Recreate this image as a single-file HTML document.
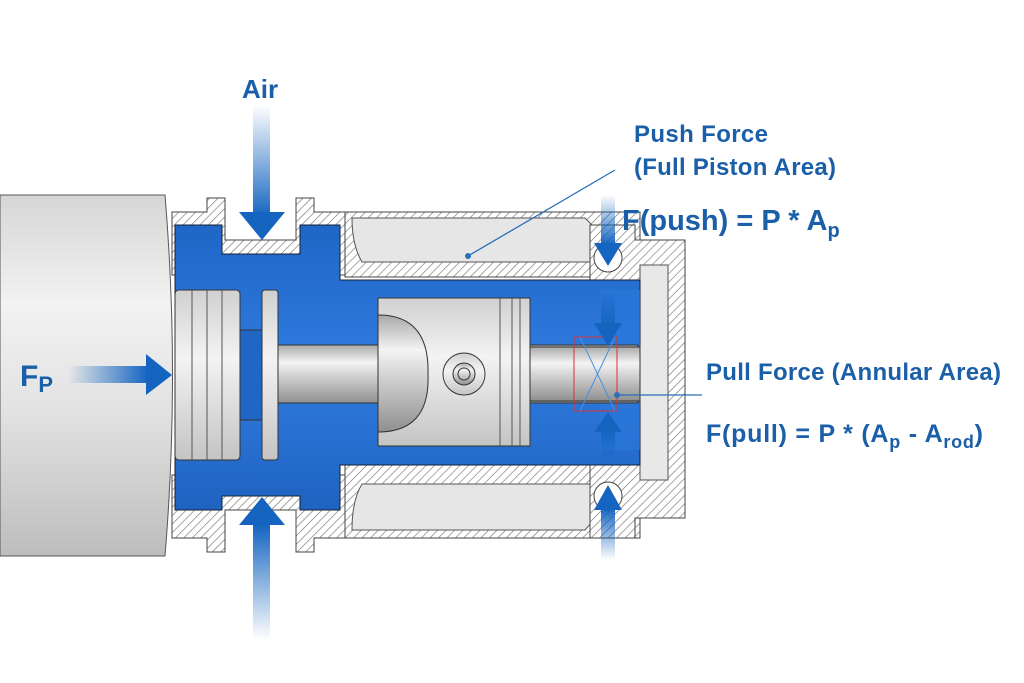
<!DOCTYPE html>
<html><head><meta charset="utf-8"><style>
html,body{margin:0;padding:0;background:#fff;}
svg{display:block;}
text{font-family:"Liberation Sans",sans-serif;font-weight:bold;fill:#1b5fa8;}
</style></head><body>
<svg width="1024" height="683" viewBox="0 0 1024 683" xmlns="http://www.w3.org/2000/svg">
<defs>
<pattern id="h" width="6" height="6" patternUnits="userSpaceOnUse" patternTransform="rotate(45)">
<rect width="6" height="6" fill="#fff"/><line x1="0" y1="0" x2="0" y2="6" stroke="#777" stroke-width="1.3"/></pattern>
<linearGradient id="cyl" x1="0" y1="0" x2="0" y2="1">
<stop offset="0" stop-color="#d6d6d6"/><stop offset="0.3" stop-color="#f2f2f2"/><stop offset="0.6" stop-color="#e2e2e2"/><stop offset="1" stop-color="#bdbdbd"/></linearGradient>
<linearGradient id="rod" x1="0" y1="0" x2="0" y2="1">
<stop offset="0" stop-color="#a9a9a9"/><stop offset="0.3" stop-color="#f4f4f4"/><stop offset="0.55" stop-color="#cfcfcf"/><stop offset="1" stop-color="#8f8f8f"/></linearGradient>
<linearGradient id="blk" x1="0" y1="0" x2="0" y2="1">
<stop offset="0" stop-color="#d0d0d0"/><stop offset="0.4" stop-color="#f3f3f3"/><stop offset="1" stop-color="#c4c4c4"/></linearGradient>
<linearGradient id="blue" x1="0" y1="0" x2="0" y2="1">
<stop offset="0" stop-color="#1f66c6"/><stop offset="0.5" stop-color="#2f7be0"/><stop offset="1" stop-color="#1f63c0"/></linearGradient>
<linearGradient id="ad" x1="0" y1="0" x2="0" y2="1"><stop offset="0" stop-color="#1565c0" stop-opacity="0"/><stop offset="1" stop-color="#1565c0"/></linearGradient>
<linearGradient id="au" x1="0" y1="1" x2="0" y2="0"><stop offset="0" stop-color="#1565c0" stop-opacity="0"/><stop offset="1" stop-color="#1565c0"/></linearGradient>
<linearGradient id="ar" x1="0" y1="0" x2="1" y2="0"><stop offset="0" stop-color="#1565c0" stop-opacity="0"/><stop offset="1" stop-color="#1565c0"/></linearGradient>
</defs>

<path d="M0 195 H165 Q180 375 165 556 H0 Z" fill="url(#cyl)" stroke="#555" stroke-width="1"/>

<path d="M172 212 H207 V198 H225 V240 H296 V198 H314 V212 H358 V275 H172 Z" fill="url(#h)" stroke="#444" stroke-width="1"/>
<path d="M172 538 H207 V552 H225 V510 H296 V552 H314 V538 H358 V475 H172 Z" fill="url(#h)" stroke="#444" stroke-width="1"/>
<rect x="345" y="212" width="295" height="65" fill="url(#h)" stroke="#444"/>
<rect x="345" y="465" width="295" height="73" fill="url(#h)" stroke="#444"/>
<path d="M352 218 H585 Q592 225 595 228 V262 H362 Q352 245 352 218Z" fill="#e6e6e6" stroke="#555"/>
<path d="M352 530 H585 Q592 522 595 518 V484 H362 Q352 500 352 530Z" fill="#e6e6e6" stroke="#555"/>
<path d="M590 225 H635 V240 H685 V518 H635 V538 H590 Z" fill="url(#h)" stroke="#444"/>
<rect x="640" y="265" width="28" height="215" fill="#e8e8e8" stroke="#555"/>

<path d="M175 225 H222 V254 H300 V225 H340 V280 H640 V465 H340 V510 H300 V496 H222 V510 H175 Z" fill="url(#blue)" stroke="#123" stroke-width="1"/>
<rect x="600" y="290" width="40" height="160" fill="#2a78dc" opacity="0.6"/>

<rect x="175" y="290" width="65" height="170" rx="4" fill="url(#blk)" stroke="#333"/>
<line x1="192" y1="290" x2="192" y2="460" stroke="#555"/>
<line x1="207" y1="290" x2="207" y2="460" stroke="#555"/>
<line x1="222" y1="290" x2="222" y2="460" stroke="#555"/>
<rect x="240" y="330" width="22" height="90" fill="#1f66c6" stroke="#333"/>
<rect x="262" y="290" width="16" height="170" rx="3" fill="url(#blk)" stroke="#333"/>
<rect x="278" y="345" width="360" height="58" fill="url(#rod)" stroke="#333"/>
<rect x="378" y="298" width="152" height="148" fill="url(#blk)" stroke="#333"/>
<path d="M378 315 Q430 315 428 375 Q430 432 378 432 Z" fill="url(#rod)" stroke="#333"/>
<line x1="500" y1="298" x2="500" y2="446" stroke="#555"/>
<line x1="512" y1="298" x2="512" y2="446" stroke="#555"/>
<line x1="520" y1="298" x2="520" y2="446" stroke="#555"/>
<circle cx="464" cy="374" r="21" fill="url(#blk)" stroke="#333"/>
<circle cx="464" cy="374" r="11" fill="url(#rod)" stroke="#333"/>
<circle cx="464" cy="374" r="6" fill="none" stroke="#333"/>
<rect x="530" y="347" width="110" height="54" fill="url(#rod)" stroke="#333"/>
<rect x="574" y="337" width="43" height="74" fill="none" stroke="#d33" stroke-width="1"/>
<path d="M580 337 L615 411 M615 337 L580 411" stroke="#4a8fe0" stroke-width="1"/>
<circle cx="608" cy="258" r="14" fill="#fff" stroke="#444"/>
<circle cx="608" cy="496" r="14" fill="#fff" stroke="#444"/>

<rect x="253" y="105" width="17" height="112" fill="url(#ad)"/>
<polygon points="239,212 285,212 262,240" fill="#1565c0"/>
<rect x="253" y="525" width="17" height="115" fill="url(#au)"/>
<polygon points="239,525 285,525 262,497" fill="#1565c0"/>
<rect x="68" y="366" width="80" height="17" fill="url(#ar)"/>
<polygon points="146,354 146,395 172,375" fill="#1565c0"/>
<rect x="601" y="195" width="14" height="50" fill="url(#ad)"/>
<polygon points="594,243 622,243 608,266" fill="#1565c0"/>
<rect x="601" y="290" width="14" height="35" fill="url(#ad)"/>
<polygon points="594,323 622,323 608,346" fill="#1565c0"/>
<rect x="601" y="508" width="14" height="52" fill="url(#au)"/>
<polygon points="594,510 622,510 608,485" fill="#1565c0"/>
<rect x="601" y="430" width="14" height="30" fill="url(#au)"/>
<polygon points="594,432 622,432 608,412" fill="#1565c0"/>

<line x1="468" y1="256" x2="615" y2="170" stroke="#2a6fb8" stroke-width="1.3"/>
<circle cx="468" cy="256" r="3" fill="#2a6fb8"/>
<line x1="617" y1="395" x2="702" y2="395" stroke="#2a6fb8" stroke-width="1.3"/>
<circle cx="617" cy="395" r="3" fill="#2a6fb8"/>

<text x="242" y="98" font-size="26">Air</text>
<text x="20" y="386" font-size="30">F<tspan font-size="22" dy="6">P</tspan></text>
<text x="634" y="142" font-size="24" textLength="134">Push Force</text>
<text x="634" y="175" font-size="24" textLength="202">(Full Piston Area)</text>
<text x="622" y="230" font-size="29">F(push) = P * A<tspan font-size="20" dy="7">p</tspan></text>
<text x="706" y="380" font-size="24" textLength="295">Pull Force (Annular Area)</text>
<text x="706" y="442" font-size="25" textLength="277">F(pull) = P * (A<tspan font-size="18" dy="6">p</tspan><tspan dy="-6"> - A</tspan><tspan font-size="18" dy="6">rod</tspan><tspan dy="-6">)</tspan></text>
</svg>
</body></html>
